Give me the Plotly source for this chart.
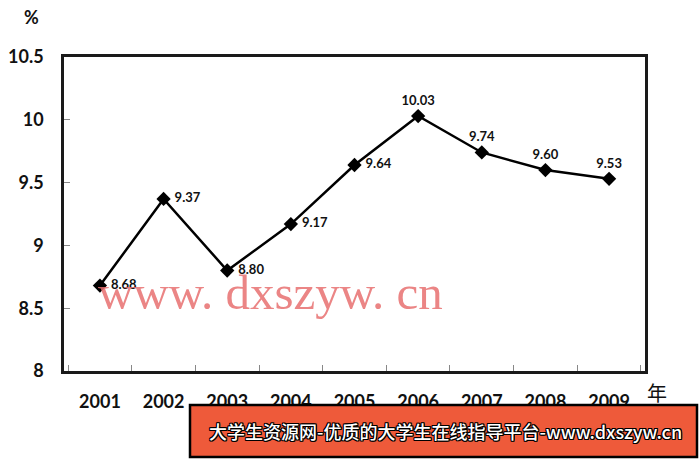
import plotly.graph_objects as go

years = ["2001", "2002", "2003", "2004", "2005", "2006", "2007", "2008", "2009"]
values = [8.68, 9.37, 8.80, 9.17, 9.64, 10.03, 9.74, 9.60, 9.53]
label_pos = ["middle right"] * 5 + ["top center"] * 4
y_ticks = [8, 8.5, 9, 9.5, 10, 10.5]
y_tick_text = ["8", "8.5", "9", "9.5", "10", "10.5"]

fig = go.Figure()
fig.add_trace(go.Scatter(
    x=years, y=values,
    mode="lines+markers+text",
    line=dict(color="#000000", width=2.5),
    marker=dict(symbol="diamond", size=11, color="#000000"),
    text=[f" {v:.2f}" if p == "middle right" else f"{v:.2f}" for v, p in zip(values, label_pos)],
    textposition=label_pos,
    textfont=dict(family="Lato", size=13, color="#111111", weight="bold"),
    cliponaxis=False,
    hoverinfo="skip",
))

fig.update_layout(
    width=700, height=461,
    autosize=False,
    margin=dict(l=64, r=55, t=57, b=90, autoexpand=False),
    paper_bgcolor="white", plot_bgcolor="white",
    showlegend=False,
    font=dict(family="Lato", color="#111111"),
    xaxis=dict(
        type="category", automargin=False,
        showline=True, linecolor="#1a1a1a", linewidth=2.5, mirror=True,
        showgrid=False, zeroline=False,
        ticks="inside", tickson="boundaries", ticklen=6, tickcolor="#888888", tickwidth=1,
        tickfont=dict(family="Lato", size=18, weight="bold", color="#111111"),
        ticklabelstandoff=13,
    ),
    yaxis=dict(
        range=[8, 10.5], automargin=False,
        tickvals=y_ticks, ticktext=y_tick_text,
        showline=True, linecolor="#1a1a1a", linewidth=2.5, mirror=True,
        showgrid=False, zeroline=False,
        ticks="inside", ticklen=6, tickcolor="#888888", tickwidth=1,
        tickfont=dict(family="Lato", size=18, weight="bold", color="#111111"),
        ticklabelstandoff=14,
    ),
)

# axis unit labels
fig.add_annotation(text="%", xref="paper", yref="paper", x=(31 - 64) / 581, y=(371 - 17) / 314,
                   xanchor="center", yanchor="middle",
                   showarrow=False, font=dict(family="Lato", size=18, weight="bold", color="#111111"))
fig.add_annotation(text="年", xref="paper", yref="paper", x=(657 - 64) / 581, y=(371 - 392) / 314,
                   xanchor="center", yanchor="middle",
                   showarrow=False, font=dict(family="Noto Sans CJK SC", size=20, color="#111111"))

# watermark
fig.add_annotation(text="www. dxszyw. cn", xref="paper", yref="paper",
                   x=(270 - 64) / 581, y=(371 - 292) / 314, xanchor="center", yanchor="middle",
                   showarrow=False, opacity=0.85,
                   font=dict(family="Liberation Serif", size=49, color="#E87070"))

# banner
fig.add_shape(type="rect", xref="paper", yref="paper",
              x0=(190 - 64) / 581, x1=(697 - 64) / 581,
              y0=(371 - 457) / 314, y1=(371 - 405) / 314,
              fillcolor="#EE5A3A", line=dict(color="#000000", width=2.5), layer="above")
fig.add_annotation(text="大学生资源网-优质的大学生在线指导平台-www.dxszyw.cn",
                   xref="paper", yref="paper",
                   x=(445 - 64) / 581, y=(371 - 431) / 314, xanchor="center", yanchor="middle",
                   showarrow=False,
                   font=dict(family="Noto Sans CJK SC", size=18, color="#ffffff", weight=500,
                             shadow="-1px -1px 0 #000, 1px -1px 0 #000, -1px 1px 0 #000, 1px 1px 0 #000, 0 1px 0 #000, 0 -1px 0 #000, 1px 0 0 #000, -1px 0 0 #000"))

fig.write_html("out.html", config={"displayModeBar": False},
               post_script="document.body.style.margin='0';document.body.style.overflow='hidden';")
